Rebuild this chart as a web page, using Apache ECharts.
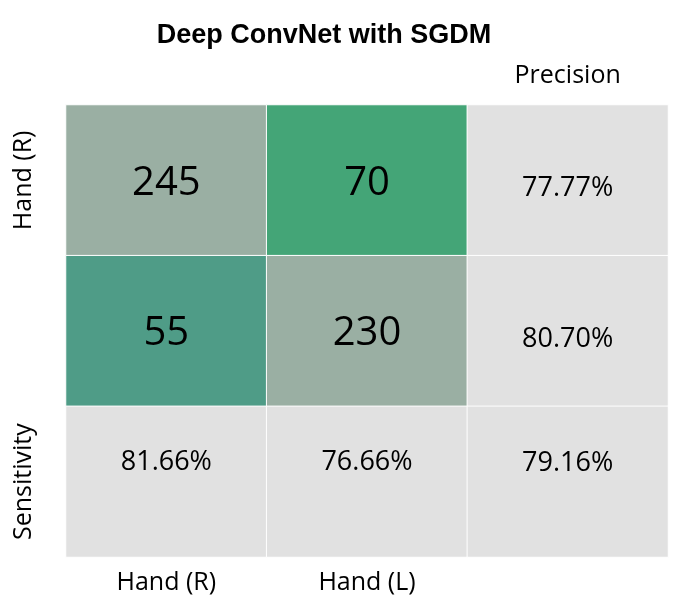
<!DOCTYPE html>
<html><head><meta charset="utf-8">
<script src="https://cdn.jsdelivr.net/npm/echarts@6/dist/echarts.min.js"></script>
<style>html,body{margin:0;padding:0;background:#fff}#c{width:692px;height:600px}</style>
</head><body><div id="c"></div>
<script>
const title = "Deep ConvNet with SGDM";
const xLabels = ["Hand (R)", "Hand (L)", ""];
const yLabels = ["Hand (R)", "Hand (L)", "Sensitivity"];
const topLabels = ["", "", "Precision"];
const matrix = [[245, 70], [55, 230]];
const precision = ["77.77%", "80.70%"];
const sensitivity = ["81.66%", "76.66%"];
const overall = "79.16%";

const cellColors = [["#9aafa3", "#44a577"], ["#4f9c87", "#9aafa3"]];
const grey = "#e1e1e1";
const FONT = "Open Sans";

const data = [];
for (let r = 0; r < 2; r++) {
  for (let c = 0; c < 2; c++) {
    data.push({ value: [c, r, matrix[r][c]], itemStyle: { color: cellColors[r][c] },
      label: { formatter: String(matrix[r][c]), fontSize: 40, offset: [0, 3] } });
  }
  data.push({ value: [2, r, 0], itemStyle: { color: grey },
    label: { formatter: precision[r], fontSize: 27, offset: [0, 8] } });
}
for (let c = 0; c < 2; c++) {
  data.push({ value: [c, 2, 0], itemStyle: { color: grey },
    label: { formatter: sensitivity[c], fontSize: 27, offset: [0, -19] } });
}
data.push({ value: [2, 2, 0], itemStyle: { color: grey },
  label: { formatter: overall, fontSize: 27, offset: [0, -18] } });

const chart = echarts.init(document.getElementById('c'));
chart.setOption({
  animation: false,
  textStyle: { fontFamily: FONT },
  title: { text: title, left: 319, top: 17, textAlign: 'center',
    textStyle: { fontFamily: 'Liberation Sans', fontWeight: 'bold', fontSize: 27, color: '#000' } },
  grid: { left: 66, right: 24, top: 105, bottom: 43 },
  xAxis: [
    { type: 'category', data: xLabels, position: 'bottom', axisLine: { show: false }, axisTick: { show: false },
      splitLine: { show: false },
      axisLabel: { color: '#000', fontSize: 25, fontFamily: FONT, margin: 13 } },
    { type: 'category', data: topLabels, position: 'top', axisLine: { show: false }, axisTick: { show: false },
      axisLabel: { color: '#000', fontSize: 25, fontFamily: FONT, margin: 17 } }
  ],
  yAxis: { type: 'category', data: yLabels, inverse: true, axisLine: { show: false }, axisTick: { show: false },
    axisLabel: { color: '#000', fontSize: 25, fontFamily: FONT, rotate: 90, margin: 30, align: 'center', verticalAlign: 'bottom' } },
  series: [{
    type: 'heatmap', data: data,
    itemStyle: { borderColor: '#fff', borderWidth: 1 },
    label: { show: true, color: '#000', fontFamily: FONT }
  }]
});
</script></body></html>
